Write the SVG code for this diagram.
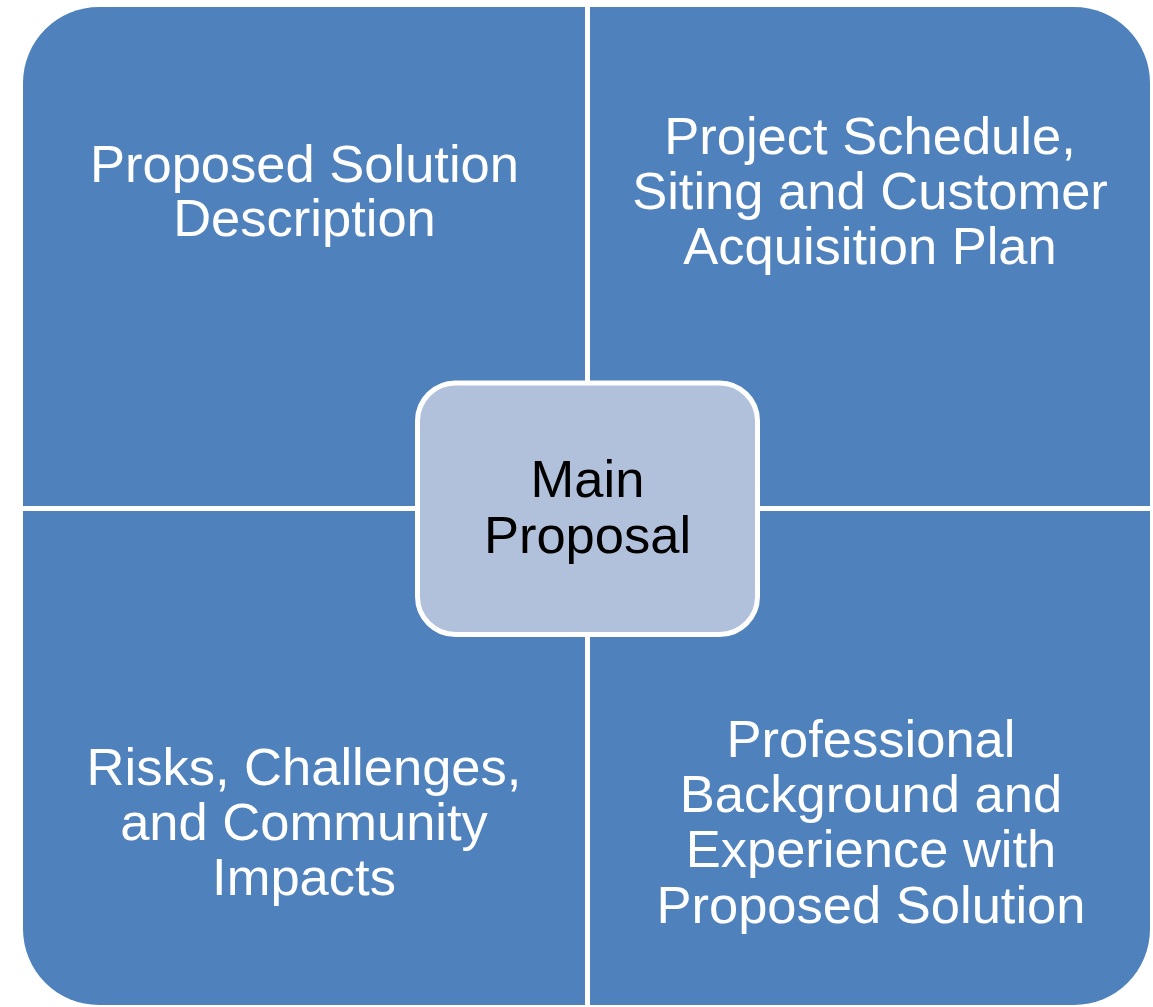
<svg xmlns="http://www.w3.org/2000/svg" width="1153" height="1007" viewBox="0 0 1153 1007">
  <style>
    .quad { fill: #4F81BD; }
    .qtext { font-family: "Liberation Sans", Arial, sans-serif; font-size: 52.5px; fill: #FFFFFF; text-anchor: middle; }
    .center { fill: #B1C1DB; stroke: #FFFFFF; stroke-width: 5; }
    .ctext { font-family: "Liberation Sans", Arial, sans-serif; font-size: 52.5px; fill: #000000; text-anchor: middle; }
  </style>
  <rect width="1153" height="1007" fill="#FFFFFF"/>
  <g id="connectors"/>
  <g id="node-proposed-solution">
    <path class="quad" d="M23,83 A76,76 0 0 1 99,7 L585,7 L585,506 L23,506 Z"/>
    <text class="qtext" x="304.5" y="182">Proposed Solution</text>
    <text class="qtext" x="304.5" y="236">Description</text>
  </g>
  <g id="node-project-schedule">
    <path class="quad" d="M590,7 L1074,7 A76,76 0 0 1 1150,83 L1150,506 L590,506 Z"/>
    <text class="qtext" x="870" y="154">Project Schedule,</text>
    <text class="qtext" x="870" y="209">Siting and Customer</text>
    <text class="qtext" x="870" y="264">Acquisition Plan</text>
  </g>
  <g id="node-risks">
    <path class="quad" d="M23,511 L585,511 L585,1005 L99,1005 A76,76 0 0 1 23,929 Z"/>
    <text class="qtext" x="304" y="785">Risks, Challenges,</text>
    <text class="qtext" x="304" y="840">and Community</text>
    <text class="qtext" x="304" y="895">Impacts</text>
  </g>
  <g id="node-professional">
    <path class="quad" d="M590,511 L1150,511 L1150,929 A76,76 0 0 1 1074,1005 L590,1005 Z"/>
    <text class="qtext" x="871" y="757">Professional</text>
    <text class="qtext" x="871" y="812">Background and</text>
    <text class="qtext" x="871" y="867">Experience with</text>
    <text class="qtext" x="871" y="923">Proposed Solution</text>
  </g>
  <g id="node-main-proposal">
    <rect class="center" x="417.5" y="383" width="340" height="251.5" rx="38" ry="38"/>
    <text class="ctext" x="587.5" y="497">Main</text>
    <text class="ctext" x="587.5" y="553">Proposal</text>
  </g>
</svg>
